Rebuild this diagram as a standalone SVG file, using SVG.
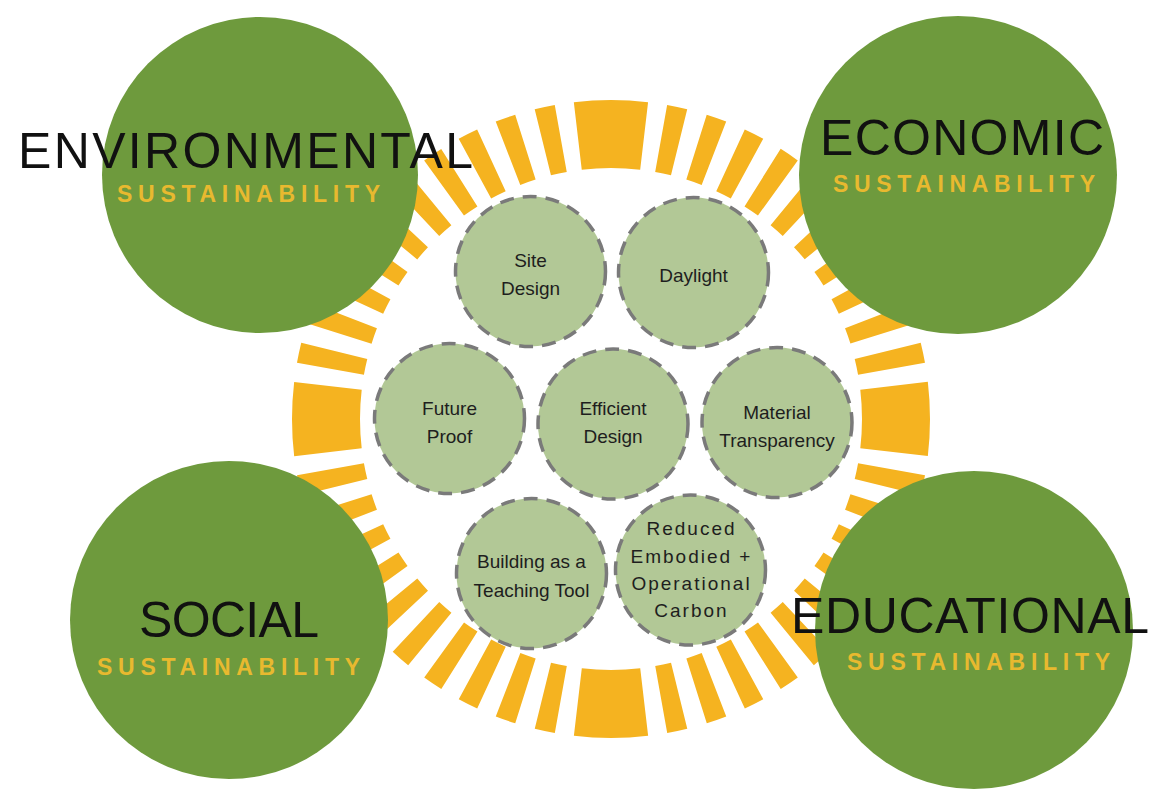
<svg xmlns="http://www.w3.org/2000/svg" width="1150" height="789" viewBox="0 0 1150 789">
<style>
.big{fill:#6e9a3d}
.small{fill:#b2c896;stroke:#7a7a7a;stroke-width:3.5;stroke-dasharray:14 9}
.title{font-family:"Liberation Sans",Arial,sans-serif;font-size:50px;fill:#111111}
.sub{font-family:"Liberation Sans",Arial,sans-serif;font-size:23px;font-weight:bold;fill:#e8b92f}
.lbl{font-family:"Liberation Sans",Arial,sans-serif;font-size:19px;fill:#1e1e1e;text-anchor:middle}
.sp{letter-spacing:2px}
</style>
<rect width="1150" height="789" fill="#ffffff"/>
<g id="ring">
<circle cx="611" cy="419" r="285" fill="none" stroke="#f5b320" stroke-width="68" pathLength="360" stroke-dasharray="13.4 3.45 3.7 3.633 3.7 3.633 3.7 3.633 3.7 3.633 3.7 3.633 3.7 3.633 3.7 3.633 3.7 3.633 3.7 3.633 3.7 3.45" stroke-dashoffset="6.7"/>
</g>
<g id="connectors"/>
<g id="environmental">
<circle class="big" cx="260" cy="175" r="158"/>
<text class="title" x="18" y="168" textLength="455" lengthAdjust="spacing">ENVIRONMENTAL</text>
<text class="sub" x="117" y="202" textLength="263" lengthAdjust="spacing">SUSTAINABILITY</text>
</g>
<g id="economic">
<circle class="big" cx="958" cy="175" r="159"/>
<text class="title" x="820" y="155" textLength="284" lengthAdjust="spacing">ECONOMIC</text>
<text class="sub" x="833" y="192" textLength="262" lengthAdjust="spacing">SUSTAINABILITY</text>
</g>
<g id="social">
<circle class="big" cx="229" cy="620" r="159"/>
<text class="title" x="139" y="637" textLength="180" lengthAdjust="spacing">SOCIAL</text>
<text class="sub" x="97" y="675" textLength="263" lengthAdjust="spacing">SUSTAINABILITY</text>
</g>
<g id="educational">
<circle class="big" cx="974" cy="630" r="159"/>
<text class="title" x="791" y="633" textLength="358" lengthAdjust="spacing">EDUCATIONAL</text>
<text class="sub" x="847" y="670" textLength="263" lengthAdjust="spacing">SUSTAINABILITY</text>
</g>
<g id="site-design">
<circle class="small" cx="530.5" cy="271.5" r="75"/>
<text class="lbl" x="530.5" y="267">Site</text>
<text class="lbl" x="530.5" y="295">Design</text>
</g>
<g id="daylight">
<circle class="small" cx="693.5" cy="272.5" r="75"/>
<text class="lbl" x="693.5" y="282">Daylight</text>
</g>
<g id="future-proof">
<circle class="small" cx="449.5" cy="418.5" r="75"/>
<text class="lbl" x="449.5" y="415">Future</text>
<text class="lbl" x="449.5" y="443">Proof</text>
</g>
<g id="efficient-design">
<circle class="small" cx="613" cy="424" r="75"/>
<text class="lbl" x="613" y="415">Efficient</text>
<text class="lbl" x="613" y="443">Design</text>
</g>
<g id="material-transparency">
<circle class="small" cx="777" cy="422.5" r="75"/>
<text class="lbl" x="777" y="419">Material</text>
<text class="lbl" x="777" y="447">Transparency</text>
</g>
<g id="building-teaching-tool">
<circle class="small" cx="531.5" cy="573.5" r="75"/>
<text class="lbl" x="531.5" y="568">Building as a</text>
<text class="lbl" x="531.5" y="597">Teaching Tool</text>
</g>
<g id="reduced-carbon">
<circle class="small" cx="690.5" cy="570" r="75"/>
<text class="lbl sp" x="691.5" y="535">Reduced</text>
<text class="lbl sp" x="691.5" y="562.5">Embodied +</text>
<text class="lbl sp" x="691.5" y="590">Operational</text>
<text class="lbl sp" x="691.5" y="617">Carbon</text>
</g>
</svg>
